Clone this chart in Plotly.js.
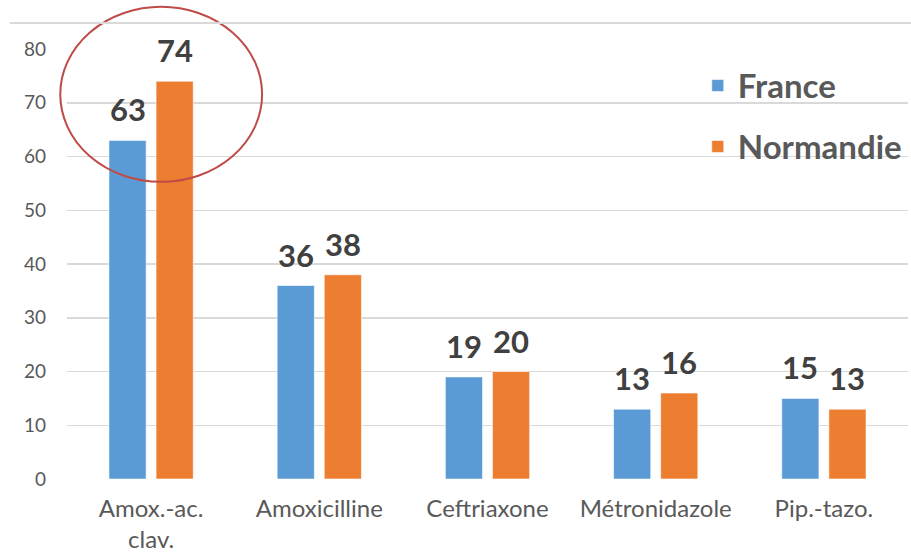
<!DOCTYPE html>
<html>
<head>
<meta charset="utf-8">
<script src="https://cdn.plot.ly/plotly-3.0.1.min.js"></script>
<style>html,body{margin:0;padding:0;background:#fff;}#chart{width:911px;height:560px;}</style>
</head>
<body>
<div id="chart"></div>
<script>
const categories = ["Amox.-ac.<br>clav.", "Amoxicilline", "Ceftriaxone", "Métronidazole", "Pip.-tazo."];
const seriesNames = ["France", "Normandie"];
const france = [63, 36, 19, 13, 15];
const normandie = [74, 38, 20, 16, 13];
const yTicks = [0, 10, 20, 30, 40, 50, 60, 70, 80];

const colors = ["#5B9BD5", "#ED7D31"];
const font = "Lato, 'Open Sans', sans-serif";

const traces = [france, normandie].map((vals, i) => ({
  type: "bar",
  name: seriesNames[i],
  x: categories,
  y: vals,
  marker: {color: colors[i], line: {color: "rgba(255,255,255,0.6)", width: 1}},
  legendgroup: "g" + i,
  hoverinfo: "none"
}));

const annotations = [];
[france, normandie].forEach((vals, i) => {
  vals.forEach((v, j) => {
    annotations.push({
      x: categories[j], y: v, xref: "x", yref: "y",
      text: String(v), showarrow: false,
      xshift: i === 0 ? -23.5 : 23.5, yshift: 10,
      yanchor: "bottom",
      font: {family: font, size: 31, color: "#404040", weight: 700}
    });
  });
});

const layout = {
  width: 911, height: 560,
  margin: {l: 67, r: 3, t: 49, b: 81},
  paper_bgcolor: "#ffffff", plot_bgcolor: "#ffffff",
  barmode: "group", bargap: 0.44, bargroupgap: 0.21,
  showlegend: true,
  legend: {
    x: 0.75, y: 0.98, xanchor: "left", yanchor: "top",
    traceorder: "grouped", tracegroupgap: 15,
    font: {family: font, size: 33, color: "#595959", weight: 700},
    bgcolor: "rgba(0,0,0,0)", borderwidth: 0
  },
  xaxis: {
    type: "category",
    tickfont: {family: font, size: 24, color: "#595959"},
    showgrid: false, showline: false, ticks: "", zeroline: false,
    ticklabelstandoff: 13,
    fixedrange: true
  },
  yaxis: {
    range: [0, 80], tickvals: yTicks, ticktext: yTicks.map(String),
    tickfont: {family: font, size: 19, color: "#595959"},
    showgrid: true, gridcolor: "#D9D9D9", gridwidth: 1.5,
    zeroline: false, showline: false, ticks: "", ticklabelstandoff: 20
  },
  annotations: annotations,
  shapes: [
    {type: "circle", xref: "paper", yref: "paper",
     x0: -0.008, x1: 0.232, y0: 0.691, y1: 1.098,
     line: {color: "#BE4B48", width: 2}, fillcolor: "rgba(0,0,0,0)"},
    {type: "line", xref: "paper", yref: "paper",
     x0: -0.068, x1: 1.01, y0: 1.0605, y1: 1.0605,
     line: {color: "#D9D9D9", width: 2}}
  ]
};

Plotly.newPlot("chart", traces, layout, {displayModeBar: false, staticPlot: true});
</script>
</body>
</html>
